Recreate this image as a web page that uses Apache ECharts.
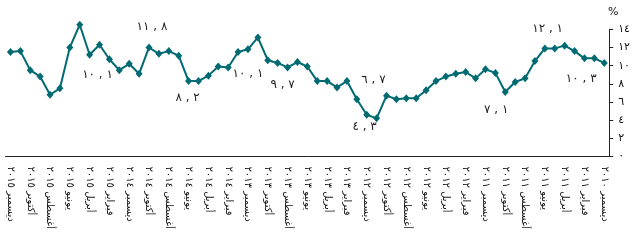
<!DOCTYPE html>
<html>
<head>
<meta charset="utf-8">
<script src="https://cdn.jsdelivr.net/npm/echarts@6/dist/echarts.min.js"></script>
<style>
  html, body { margin: 0; padding: 0; background: #fff; }
  #chart { width: 633px; height: 247px; }
</style>
</head>
<body>
<div id="chart"></div>
<script>
// months of the series, oldest first (ديسمبر ٢٠١٠ .. ديسمبر ٢٠١٥)
const monthNames = ["يناير", "فبراير", "مارس", "أبريل", "مايو", "يونيو",
  "يوليو", "أغسطس", "سبتمبر", "أكتوبر", "نوفمبر", "ديسمبر"];
const startYear = 2010;
const startMonth = 11; // ديسمبر

// rate, %, oldest first
const rate = [
  10.3, 10.8, 10.8, 11.6, 12.2, 11.9, 11.9, 10.5, 8.6, 8.2, 7.1, 9.2, 9.6,
  8.6, 9.3, 9.1, 8.8, 8.3, 7.3, 6.4, 6.4, 6.3, 6.7, 4.2, 4.6,
  6.3, 8.3, 7.6, 8.3, 8.3, 9.9, 10.4, 9.8, 10.3, 10.6, 13.1, 11.8,
  11.5, 9.8, 9.9, 8.9, 8.3, 8.3, 11.1, 11.6, 11.3, 12.0, 9.1, 10.2,
  9.5, 10.7, 12.3, 11.2, 14.5, 12.0, 7.5, 6.8, 8.8, 9.5, 11.6, 11.5
];

const yTickLabels = ["٠", "٢", "٤", "٦", "٨", "١٠", "١٢", "١٤"];

// annotated points: index into rate, text shown
const noteIndex = [46, 51, 42, 36, 32, 22, 23, 10, 4, 0];
const noteText = ["١١,٨", "١٠,١", "٨,٢", "١٠,١", "٩,٧", "٦,٧", "٤,٣", "٧,١", "١٢,١", "١٠,٣"];
// label offsets from the point, px
const noteOffset = [[3, -21], [-2, 30], [-1, 17], [0, 25], [-5, 17],
  [-13, -16], [-12, 9], [-9, 18], [-17, -17], [-23, 16]];

const indic = (s) => String(s).replace(/[0-9]/g, (d) => "٠١٢٣٤٥٦٧٨٩"[d]);

// "month year": canvas bidi puts the year first, i.e. on top once rotated
const categories = rate.map((_, i) => {
  const m = (startMonth + i) % 12;
  const y = startYear + Math.floor((startMonth + i) / 12);
  return monthNames[m] + " " + indic(y);
});

const spaced = (t) => "\u202D" + t.replace(",", " , ") + "\u202C";

const chart = echarts.init(document.getElementById("chart"));
const font = "DejaVu Sans";

chart.setOption({
  animation: false,
  textStyle: { fontFamily: font },
  grid: { left: 5.5, right: 23, top: 29.3, bottom: 90.5 },
  xAxis: {
    type: "category",
    data: categories,
    inverse: true,
    axisLine: { lineStyle: { color: "#222", width: 1 } },
    axisTick: { interval: 0, length: 5, lineStyle: { color: "#222" } },
    axisLabel: {
      interval: 1,
      rotate: -90,
      margin: 10,
      fontSize: 10,
      color: "#111",
      fontFamily: font,
    },
  },
  yAxis: {
    type: "value",
    position: "right",
    min: 0,
    max: 14,
    interval: 2,
    name: "%",
    nameLocation: "end",
    nameGap: 12,
    nameTextStyle: { color: "#111", fontSize: 11, fontFamily: font, padding: [0, 0, 0, 8] },
    axisLine: { show: true, lineStyle: { color: "#222", width: 1 } },
    axisTick: { show: true, length: 4, lineStyle: { color: "#222" } },
    splitLine: { show: false },
    axisLabel: {
      margin: 9,
      fontSize: 11,
      color: "#111",
      fontFamily: font,
      formatter: (v) => yTickLabels[v / 2],
    },
  },
  series: [
    {
      type: "line",
      data: rate,
      clip: false,
      symbol: "diamond",
      symbolSize: [7, 8],
      showAllSymbol: true,
      lineStyle: { color: "#006a72", width: 2 },
      itemStyle: { color: "#006a72" },
      markPoint: {
        symbol: "circle",
        symbolSize: 0,
        data: noteIndex.map((c, k) => ({
          coord: [categories[c], rate[c]],
          label: {
            show: true,
            position: "inside",
            offset: noteOffset[k],
            formatter: spaced(noteText[k]),
            color: "#222",
            fontSize: 12,
            fontFamily: font,
          },
        })),
      },
    },
  ],
});
</script>
</body>
</html>
